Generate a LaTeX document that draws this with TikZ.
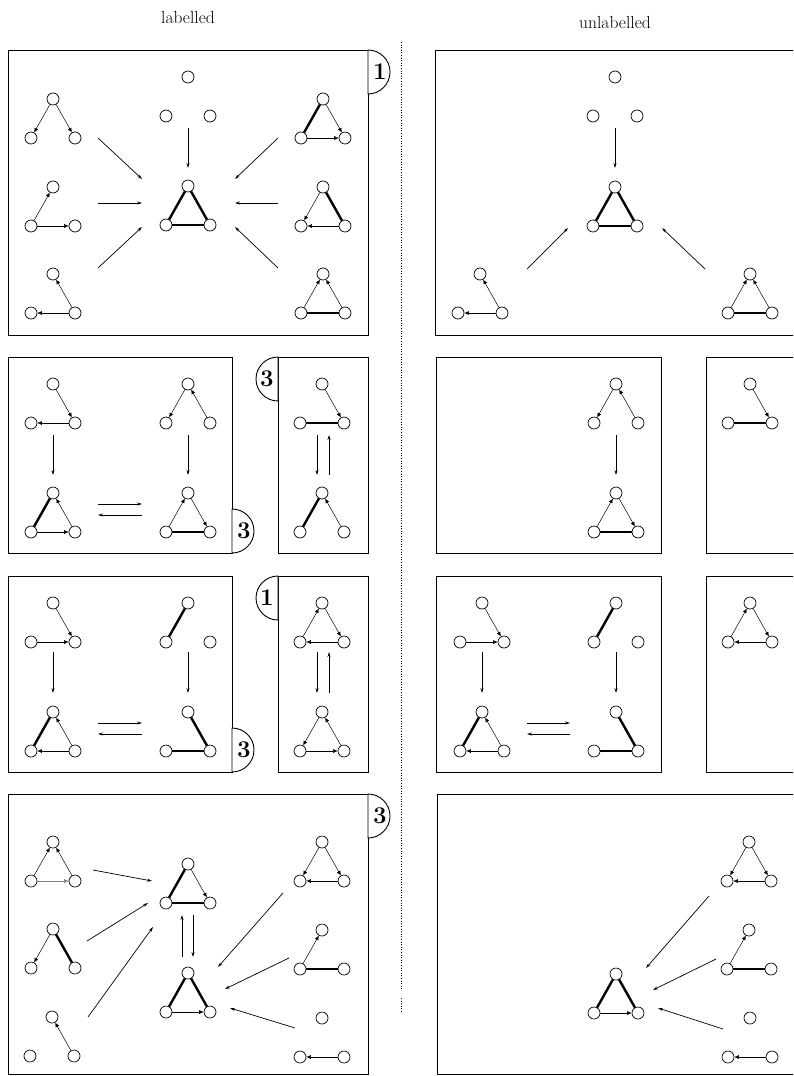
\documentclass[tikz,border=0pt]{standalone}
\usetikzlibrary{arrows.meta}
\newcommand{\tri}[3]{%
  \path (#2,#3) node[vx] (#1-a) {} ++(-22,39) node[vx] (#1-l) {} ++(44,0) node[vx] (#1-r) {};}
\newcommand{\rxn}[5]{%
  \coordinate (#1s) at (#2,#3); \coordinate (#1e) at (#4,#5); \draw[rx] (#1s) -- (#1e);}
\newcommand{\tabR}[4]{%
  \draw[panel,fill=white] (#2,#3) ++(0,-22) arc[start angle=90,end angle=-90,radius=22pt] -- cycle;
  \node[tabtxt] (#1) at ({#2+12},#3) {#4};}
\newcommand{\tabL}[4]{%
  \draw[panel,fill=white] (#2,#3) ++(0,-22) arc[start angle=90,end angle=270,radius=22pt] -- cycle;
  \node[tabtxt] (#1) at ({#2-11},#3) {#4};}
\begin{document}
\begin{tikzpicture}[x=1pt,y=-1pt,
  vx/.style={circle,draw,line width=0.7pt,minimum size=12pt,inner sep=0pt,fill=white},
  dr/.style={line width=0.5pt,-{Latex[length=4.5pt,width=4pt]}},
  tk/.style={line width=2.4pt},
  rx/.style={line width=0.7pt,-{Stealth[length=5pt,width=3pt]}},
  panel/.style={line width=0.9pt},
  tabtxt/.style={font=\fontsize{24}{24}\selectfont\bfseries,inner sep=0pt},
  ttl/.style={font=\fontsize{17.5}{20}\selectfont}]
\useasboundingbox (0,0) rectangle (793,1076);
\clip (0,0) rectangle (793,1076);

% titles
\node[ttl] (tl) at (188,17) {labelled};
\node[ttl] (tu) at (615,22) {unlabelled};

% divider
\draw[dotted,line width=0.6pt] (401,42) -- (401,990);
\draw[dotted,line width=0.6pt] (401,998) -- (401,1012);

% panels left
\draw[panel] (8,50) rectangle (368,335);
\draw[panel] (8,357) rectangle (232,553);
\draw[panel] (278,357) rectangle (368,553);
\draw[panel] (8,576) rectangle (232,772);
\draw[panel] (278,576) rectangle (368,772);
\draw[panel] (8,794) rectangle (368,1074);
% panels right
\draw[panel] (435,50) rectangle (800,335);
\draw[panel] (436,357) rectangle (661,553);
\draw[panel] (706,357) rectangle (800,553);
\draw[panel] (436,576) rectangle (661,772);
\draw[panel] (706,576) rectangle (800,772);
\draw[panel] (437,794) rectangle (800,1074);

% tabs
\tabR{t1}{368}{72}{1}
\tabR{t2}{232}{531}{3}
\tabL{t3}{278}{379}{3}
\tabR{t4}{232}{750}{3}
\tabL{t5}{278}{598}{1}
\tabR{t6}{368}{816}{3}

% ===== Row 1, labelled
\tri{a1}{53}{99}  \draw[dr] (a1-a)--(a1-l); \draw[dr] (a1-a)--(a1-r);
\tri{a2}{53}{187} \draw[dr] (a2-l)--(a2-a); \draw[dr] (a2-l)--(a2-r);
\tri{a3}{53}{274} \draw[dr] (a3-r)--(a3-a); \draw[dr] (a3-r)--(a3-l);
\tri{a4}{188}{77}
\tri{a5}{188}{186} \draw[tk] (a5-a)--(a5-l); \draw[tk] (a5-a)--(a5-r); \draw[tk] (a5-l)--(a5-r);
\tri{a6}{323}{99}  \draw[tk] (a6-a)--(a6-l); \draw[dr] (a6-a)--(a6-r); \draw[dr] (a6-l)--(a6-r);
\tri{a7}{323}{187} \draw[tk] (a7-a)--(a7-r); \draw[dr] (a7-a)--(a7-l); \draw[dr] (a7-r)--(a7-l);
\tri{a8}{323}{274} \draw[tk] (a8-l)--(a8-r); \draw[dr] (a8-l)--(a8-a); \draw[dr] (a8-r)--(a8-a);
\rxn{ra1}{98}{138}{142}{179}
\rxn{ra2}{98}{203}{142}{203}
\rxn{ra3}{98}{268}{142}{227}
\rxn{ra4}{188}{128}{188}{168}
\rxn{ra5}{278}{138}{235}{179}
\rxn{ra6}{278}{203}{235}{203}
\rxn{ra7}{278}{268}{235}{227}

% ===== Row 1, unlabelled
\tri{b4}{615}{77}
\tri{b5}{615}{187} \draw[tk] (b5-a)--(b5-l); \draw[tk] (b5-a)--(b5-r); \draw[tk] (b5-l)--(b5-r);
\tri{b3}{480}{274} \draw[dr] (b3-r)--(b3-a); \draw[dr] (b3-r)--(b3-l);
\tri{b8}{750}{274} \draw[tk] (b8-l)--(b8-r); \draw[dr] (b8-l)--(b8-a); \draw[dr] (b8-r)--(b8-a);
\rxn{rb1}{615}{128}{615}{168}
\rxn{rb2}{527}{269}{568}{228}
\rxn{rb3}{705}{269}{662}{228}

% ===== Row 2, labelled
\tri{c1}{53}{384}  \draw[dr] (c1-a)--(c1-r); \draw[dr] (c1-r)--(c1-l);
\tri{c2}{188}{384} \draw[dr] (c2-a)--(c2-l); \draw[dr] (c2-r)--(c2-a);
\tri{c3}{53}{493}  \draw[tk] (c3-a)--(c3-l); \draw[dr] (c3-r)--(c3-a); \draw[dr] (c3-l)--(c3-r);
\tri{c4}{188}{493} \draw[tk] (c4-l)--(c4-r); \draw[dr] (c4-l)--(c4-a); \draw[dr] (c4-a)--(c4-r);
\tri{c5}{322}{384} \draw[tk] (c5-l)--(c5-r); \draw[dr] (c5-a)--(c5-r);
\tri{c6}{322}{493} \draw[tk] (c6-a)--(c6-l); \draw[dr] (c6-r)--(c6-a);
\rxn{rc1}{53}{435}{53}{475}
\rxn{rc2}{188}{435}{188}{475}
\rxn{rc3}{98}{504}{142}{504}
\rxn{rc4}{142}{515}{98}{515}
\rxn{rc5}{317}{435}{317}{475}
\rxn{rc6}{329}{475}{329}{435}

% ===== Row 2, unlabelled
\tri{d2}{616}{384} \draw[dr] (d2-a)--(d2-l); \draw[dr] (d2-r)--(d2-a);
\tri{d4}{616}{493} \draw[tk] (d4-l)--(d4-r); \draw[dr] (d4-l)--(d4-a); \draw[dr] (d4-a)--(d4-r);
\tri{d5}{750}{384} \draw[tk] (d5-l)--(d5-r); \draw[dr] (d5-a)--(d5-r);
\rxn{rd1}{616}{435}{616}{475}

% ===== Row 3, labelled
\tri{e1}{53}{603}  \draw[dr] (e1-a)--(e1-r); \draw[dr] (e1-l)--(e1-r);
\tri{e2}{188}{603} \draw[tk] (e2-a)--(e2-l);
\tri{e3}{53}{712}  \draw[tk] (e3-a)--(e3-l); \draw[dr] (e3-r)--(e3-a); \draw[dr] (e3-r)--(e3-l);
\tri{e4}{188}{712} \draw[tk] (e4-a)--(e4-r); \draw[tk] (e4-l)--(e4-r);
\tri{e5}{322}{603} \draw[dr] (e5-l)--(e5-a); \draw[dr] (e5-a)--(e5-r); \draw[dr] (e5-r)--(e5-l);
\tri{e6}{322}{712} \draw[dr] (e6-a)--(e6-l); \draw[dr] (e6-r)--(e6-a); \draw[dr] (e6-l)--(e6-r);
\rxn{re1}{53}{652}{53}{693}
\rxn{re2}{188}{652}{188}{693}
\rxn{re3}{98}{723}{142}{723}
\rxn{re4}{142}{734}{98}{734}
\rxn{re5}{317}{652}{317}{693}
\rxn{re6}{329}{693}{329}{652}

% ===== Row 3, unlabelled
\tri{f1}{482}{603} \draw[dr] (f1-a)--(f1-r); \draw[dr] (f1-l)--(f1-r);
\tri{f2}{616}{603} \draw[tk] (f2-a)--(f2-l);
\tri{f3}{482}{712} \draw[tk] (f3-a)--(f3-l); \draw[dr] (f3-r)--(f3-a); \draw[dr] (f3-r)--(f3-l);
\tri{f4}{616}{712} \draw[tk] (f4-a)--(f4-r); \draw[tk] (f4-l)--(f4-r);
\tri{f5}{750}{603} \draw[dr] (f5-l)--(f5-a); \draw[dr] (f5-a)--(f5-r); \draw[dr] (f5-r)--(f5-l);
\rxn{rf1}{482}{652}{482}{693}
\rxn{rf2}{616}{652}{616}{693}
\rxn{rf3}{527}{723}{570}{723}
\rxn{rf4}{570}{734}{527}{734}

% ===== Row 4, labelled
\tri{g1}{53}{842}  \draw[dr] (g1-l)--(g1-a); \draw[dr] (g1-r)--(g1-a); \draw[dr,gray] (g1-l)--(g1-r);
\tri{g2}{53}{929}  \draw[dr] (g2-a)--(g2-l); \draw[tk] (g2-a)--(g2-r);
\tri{g3}{52}{1017} \draw[dr] (g3-r)--(g3-a);
\tri{g4}{188}{864} \draw[tk] (g4-a)--(g4-l); \draw[tk] (g4-l)--(g4-r); \draw[dr] (g4-a)--(g4-r);
\tri{g5}{188}{973} \draw[tk] (g5-a)--(g5-l); \draw[tk] (g5-a)--(g5-r); \draw[dr] (g5-l)--(g5-r);
\tri{g6}{322}{842} \draw[dr] (g6-a)--(g6-l); \draw[dr] (g6-a)--(g6-r); \draw[dr] (g6-r)--(g6-l);
\tri{g7}{322}{930} \draw[dr] (g7-l)--(g7-a); \draw[tk] (g7-l)--(g7-r);
\tri{g8}{322}{1018} \draw[dr] (g8-r)--(g8-l);
\rxn{rg1}{93}{870}{152}{881}
\rxn{rg2}{87}{941}{148}{903}
\rxn{rg3}{88}{1017}{153}{927}
\rxn{rg4}{283}{893}{218}{967}
\rxn{rg5}{289}{958}{225}{989}
\rxn{rg6}{295}{1028}{230}{1008}
\rxn{rg7}{182}{957}{182}{915}
\rxn{rg8}{193}{915}{193}{957}

% ===== Row 4, unlabelled
\tri{h5}{616}{974} \draw[tk] (h5-a)--(h5-l); \draw[tk] (h5-a)--(h5-r); \draw[dr] (h5-l)--(h5-r);
\tri{h6}{749}{842} \draw[dr] (h6-a)--(h6-l); \draw[dr] (h6-a)--(h6-r); \draw[dr] (h6-r)--(h6-l);
\tri{h7}{749}{930} \draw[dr] (h7-l)--(h7-a); \draw[tk] (h7-l)--(h7-r);
\tri{h8}{750}{1018} \draw[dr] (h8-r)--(h8-l);
\rxn{rh1}{709}{896}{646}{968}
\rxn{rh2}{716}{959}{653}{990}
\rxn{rh3}{723}{1029}{658}{1008}
\end{tikzpicture}
\end{document}
